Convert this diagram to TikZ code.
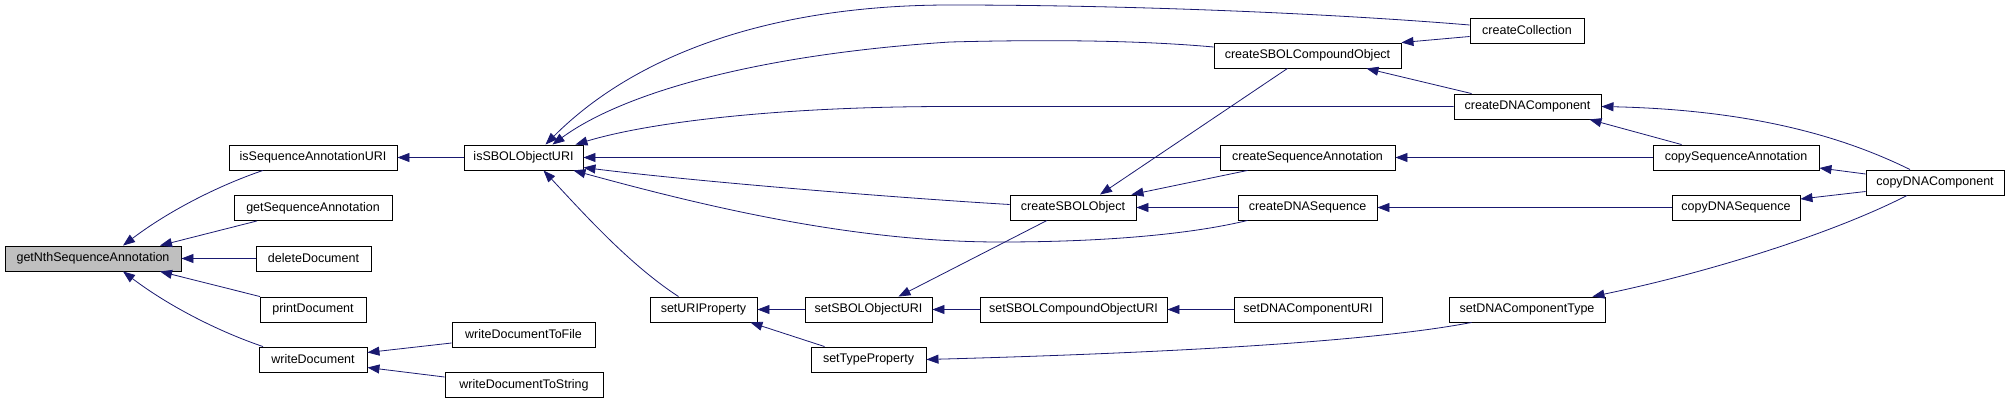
\documentclass[tikz,border=0pt]{standalone}
\usepackage{fontspec}
\setmainfont{Liberation Sans}
\usetikzlibrary{arrows.meta,calc}
\definecolor{edgecol}{HTML}{191970}
\definecolor{rootfill}{HTML}{BFBFBF}
\begin{document}
\begin{tikzpicture}[x=1pt,y=-1pt,
  box/.style={draw=black,line width=0.9pt,fill=white,minimum height=25pt,inner sep=0pt,font=\fontsize{12.5}{14}\selectfont},
  rootbox/.style={box,fill=rootfill},
  call/.style={draw=edgecol,line width=0.8pt,-{Triangle[length=12pt,width=9pt]},color=edgecol}]
\useasboundingbox (0,0) rectangle (2009,404);
% nodes
\node[rootbox,minimum width=176pt] (getNth) at (93,258.5) {getNthSequenceAnnotation};
\node[box,minimum width=168pt] (isSAU) at (313,157.5) {isSequenceAnnotationURI};
\node[box,minimum width=158pt] (getSA) at (313,208) {getSequenceAnnotation};
\node[box,minimum width=115pt] (delD) at (313.5,258.5) {deleteDocument};
\node[box,minimum width=106pt] (prD) at (313,309.5) {printDocument};
\node[box,minimum width=108pt] (wrD) at (313,359.5) {writeDocument};
\node[box,minimum width=119pt] (isSOU) at (523.5,157.5) {isSBOLObjectURI};
\node[box,minimum width=143pt] (wrDF) at (523.5,334.5) {writeDocumentToFile};
\node[box,minimum width=158pt] (wrDS) at (524,385) {writeDocumentToString};
\node[box,minimum width=107pt] (setURIP) at (703.5,309.5) {setURIProperty};
\node[box,minimum width=127pt] (setSOU) at (868.5,309.5) {setSBOLObjectURI};
\node[box,minimum width=115pt] (setTP) at (868.5,359.5) {setTypeProperty};
\node[box,minimum width=126pt] (crSO) at (1073,207.5) {createSBOLObject};
\node[box,minimum width=187pt] (setSCOU) at (1073.5,309.5) {setSBOLCompoundObjectURI};
\node[box,minimum width=114pt] (crColl) at (1527,30.5) {createCollection};
\node[box,minimum width=187pt] (crSCO) at (1307.5,55.5) {createSBOLCompoundObject};
\node[box,minimum width=147pt] (crDC) at (1527.5,106.5) {createDNAComponent};
\node[box,minimum width=175pt] (crSA) at (1307.5,157.5) {createSequenceAnnotation};
\node[box,minimum width=139pt] (crDS) at (1307.5,207.5) {createDNASequence};
\node[box,minimum width=148pt] (setDCU) at (1308,309.5) {setDNAComponentURI};
\node[box,minimum width=156pt] (setDCT) at (1527,309.5) {setDNAComponentType};
\node[box,minimum width=166pt] (cpSA) at (1736,157.5) {copySequenceAnnotation};
\node[box,minimum width=128pt] (cpDS) at (1736,207.5) {copyDNASequence};
\node[box,minimum width=138pt] (cpDC) at (1935,182.5) {copyDNAComponent};
% edges into getNth
\draw[call] ($(isSAU.south)+(-50,0)$) .. controls (220,185) and (170,210) .. ($(getNth.north)+(30,0)$);
\draw[call] ($(getSA.south)+(-56,0)$) -- ($(getNth.north)+(67,0)$);
\draw[call] (delD.west) -- (getNth.east);
\draw[call] ($(prD.north)+(-53,0)$) -- ($(getNth.south)+(67,0)$);
\draw[call] ($(wrD.north)+(-50,0)$) .. controls (220,332) and (170,307) .. ($(getNth.south)+(30,0)$);
% second level
\draw[call] (isSOU.west) -- (isSAU.east);
\draw[call] ($(wrDF.west)+(0,8.5)$) -- ($(wrD.east)+(0,-7)$);
\draw[call] ($(wrDS.west)+(0,-8)$) -- ($(wrD.east)+(0,8)$);
% into isSBOLObjectURI
\draw[call] ($(crColl.west)+(0,-5.5)$) .. controls (1350,15) and (1150,5) .. (950,5)
  .. controls (780,5) and (640,50) .. ($(isSOU.north)+(22,0)$);
\draw[call] ($(crSCO.west)+(0,-8.5)$) .. controls (1180,44) and (1100,38) .. (950,42)
  .. controls (750,55) and (620,95) .. ($(isSOU.north)+(29,0)$);
\draw[call] (crDC.west) -- (950,106.5) .. controls (780,106.5) and (650,122) .. ($(isSOU.north east)+(-8,0)$);
\draw[call] (crSA.west) -- (isSOU.east);
\draw[call] ($(crSO.west)+(0,-3)$) .. controls (900,198) and (700,182) .. ($(isSOU.east)+(0,10)$);
\draw[call] ($(crDS.south west)+(10,0)$) .. controls (1200,232) and (1120,242) .. (1000,242)
  .. controls (850,242) and (700,205) .. ($(isSOU.south east)+(-10,0)$);
\draw[call] ($(setURIP.north)+(-25,0)$) .. controls (630,265) and (585,215) .. ($(isSOU.south)+(20,0)$);
% setter chain
\draw[call] (setSOU.west) -- (setURIP.east);
\draw[call] ($(setTP.north west)+(14,0)$) -- ($(setURIP.south east)+(-7,0)$);
\draw[call] (setSCOU.west) -- (setSOU.east);
\draw[call] (setDCU.west) -- (setSCOU.east);
\draw[call] ($(crSO.south)+(-26,0)$) -- ($(setSOU.north)+(30,0)$);
\draw[call] ($(setDCT.south west)+(23,0)$) .. controls (1380,340) and (1200,352) .. (setTP.east);
% into createSBOLObject
\draw[call] ($(crSCO.south)+(-20,0)$) -- ($(crSO.north)+(27,0)$);
\draw[call] ($(crSA.south west)+(28,0)$) -- ($(crSO.north east)+(-5,0)$);
\draw[call] (crDS.west) -- (crSO.east);
% into createSBOLCompoundObject
\draw[call] ($(crColl.west)+(0,6)$) -- (crSCO.north east);
\draw[call] ($(crDC.north west)+(18,0)$) -- ($(crSCO.south east)+(-35,0)$);
% copy functions
\draw[call] ($(cpDC.north)+(-25,0)$) .. controls (1850,140) and (1760,110) .. (crDC.east);
\draw[call] ($(cpSA.north west)+(29,0)$) -- ($(crDC.south east)+(-12,0)$);
\draw[call] (cpSA.west) -- (crSA.east);
\draw[call] (cpDS.west) -- (crDS.east);
\draw[call] ($(cpDC.west)+(0,-8.5)$) -- ($(cpSA.east)+(0,10.5)$);
\draw[call] ($(cpDC.west)+(0,9)$) -- ($(cpDS.east)+(0,-8.5)$);
\draw[call] ($(cpDC.south)+(-28,0)$) .. controls (1840,230) and (1720,270) .. ($(setDCT.north east)+(-13,0)$);
\end{tikzpicture}
\end{document}
